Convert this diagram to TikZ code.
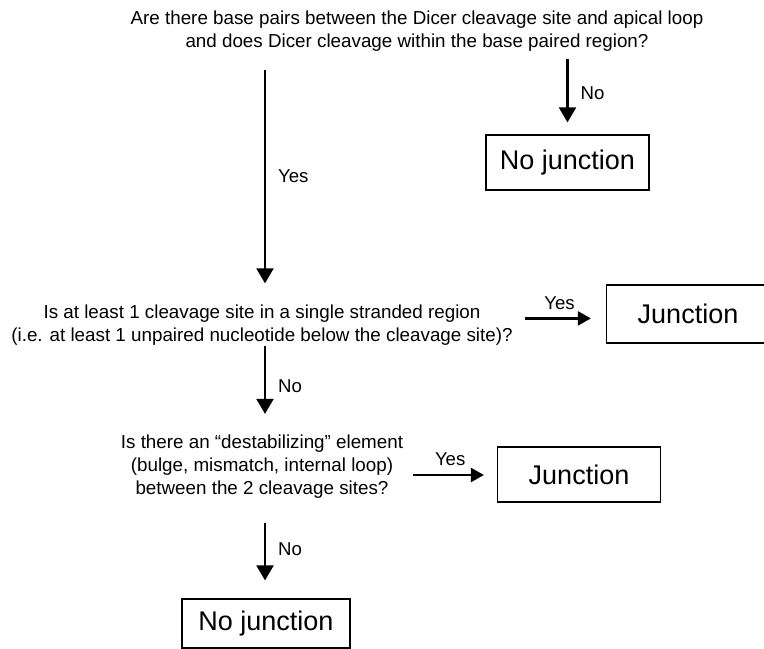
\documentclass[tikz,border=0pt]{standalone}
\usepackage{fontspec}
\setmainfont{Liberation Sans}
\usetikzlibrary{arrows.meta,positioning}

\begin{document}
\begin{tikzpicture}[x=0.5pt,y=-0.5pt,
  % questions: plain centred text, no frame
  question/.style={align=center, inner sep=0pt, font=\fontsize{9.4}{11.5}\selectfont},
  % outcomes: framed boxes with the larger text
  outcome/.style={draw, line width=0.6pt, inner sep=0pt, minimum width=81.5pt,
    minimum height=27.5pt, font=\fontsize{13.5}{16}\selectfont},
  answer/.style={inner sep=0pt, font=\fontsize{9.3}{11}\selectfont},
  flowarrow/.style={line width=1.1pt, -{Triangle[length=7.5pt,width=8.5pt]}},
  sidearrow/.style={line width=1.1pt, -{Triangle[length=6.5pt,width=7pt]}},
]
\useasboundingbox (0,0) rectangle (764,648);
\coordinate (spine) at (265,0);

\node[question] (q1) at (417,31.6)
  {Are there base pairs between the Dicer cleavage site and apical loop\\
   and does Dicer cleavage within the base paired region?};
\node[outcome] (nj1) at (567.5,162.5) {No junction};

\node[question] (q2) at (262,325)
  {Is at least 1 cleavage site in a single stranded region\\
   (i.e. at least 1 unpaired nucleotide below the cleavage site)?};
\node[outcome, minimum height=29pt] (j1) at (688,314) {Junction};

\node[question] (q3) at (262,467)
  {Is there an ``destabilizing'' element\\
   (bulge, mismatch, internal loop)\\
   between the 2 cleavage sites?};
\node[outcome] (j2) at (579,474.5) {Junction};

\node[outcome, minimum width=84pt, minimum height=24.5pt] (nj2) at (266,623.5) {No junction};

% yes / no connectors
\draw[flowarrow, shorten <=8.8pt, shorten >=10.5pt] (q1.south -| spine) -- (q2.north -| spine)
  node[answer, pos=0.49, right=6pt] (yes1) {Yes};
\draw[flowarrow, shorten <=3.3pt, shorten >=6pt] (q1.south -| nj1.north) -- (nj1.north)
  node[answer, midway, right=6pt] (no1) {No};
\draw[sidearrow, shorten <=6pt, shorten >=7.5pt] ([yshift=3.3pt]q2.east) -- ([yshift=3.3pt]q2.east -| j1.west)
  node[answer, midway, above=4pt] (yes2) {Yes};
\draw[flowarrow, shorten >=10.5pt] (q2.south -| spine) -- (q3.north -| spine)
  node[answer, pos=0.46, right=6pt] (no2) {No};
\draw[sidearrow, shorten <=5pt, shorten >=6.5pt] ([yshift=-4pt]q3.east) -- ([yshift=-4pt]q3.east -| j2.west)
  node[answer, midway, above=4pt] (yes3) {Yes};
\draw[flowarrow, shorten <=12pt, shorten >=9pt] (q3.south -| spine) -- (nj2.north -| spine)
  node[answer, midway, right=6pt] (no3) {No};
\end{tikzpicture}
\end{document}
